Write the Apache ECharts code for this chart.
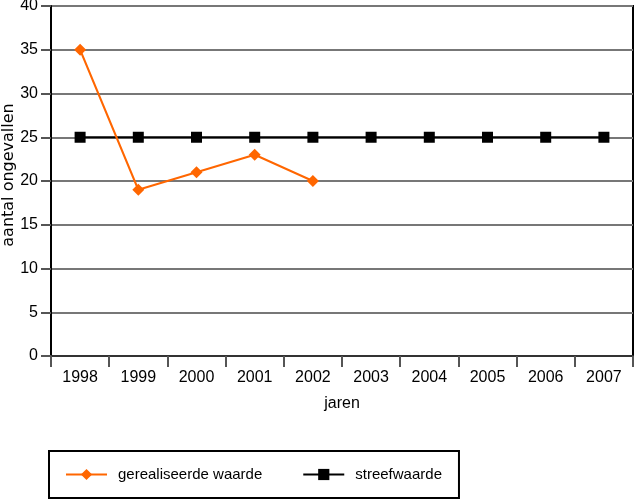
<!DOCTYPE html>
<html><head><meta charset="utf-8">
<script src="https://cdn.jsdelivr.net/npm/echarts@6/dist/echarts.min.js"></script>
<style>html,body{margin:0;padding:0;background:#fff}#c{width:635px;height:500px}</style>
</head><body><div id="c"></div>
<script>
const categories = ['1998','1999','2000','2001','2002','2003','2004','2005','2006','2007'];
const gerealiseerd = [35, 19, 21, 23, 20, null, null, null, null, null];
const streefwaarde = [25, 25, 25, 25, 25, 25, 25, 25, 25, 25];
const yTicks = {min: 0, max: 40, interval: 5};

const font = 'Liberation Sans';
const chart = echarts.init(document.getElementById('c'));
chart.setOption({
  animation: false,
  textStyle: {fontFamily: font},
  grid: {left: 51, right: 2, top: 6, bottom: 144, show: true, borderColor: '#000', borderWidth: 2,
    containLabel: false, outerBoundsMode: 'none'},
  xAxis: {
    type: 'category', data: categories, boundaryGap: true,
    name: 'jaren', nameLocation: 'middle', nameGap: 40, nameMoveOverlap: false,
    nameTextStyle: {color: '#000', fontSize: 16, fontFamily: font},
    axisLine: {lineStyle: {color: '#333', width: 2}},
    axisTick: {show: true, length: 11, lineStyle: {color: '#555', width: 2}, alignWithLabel: false},
    axisLabel: {color: '#000', fontSize: 16, margin: 14, fontFamily: font, interval: 0},
    splitLine: {show: false}
  },
  yAxis: {
    type: 'value', min: yTicks.min, max: yTicks.max, interval: yTicks.interval,
    name: 'aantal ongevallen', nameLocation: 'middle', nameGap: 34, nameRotate: 90, nameMoveOverlap: false,
    nameTextStyle: {color: '#000', fontSize: 16, fontFamily: 'DejaVu Sans', padding: [0, 0, 0, 12]},
    axisLine: {show: true, lineStyle: {color: '#000', width: 2}},
    axisTick: {show: true, length: 10, lineStyle: {color: '#555', width: 2}},
    axisLabel: {color: '#000', fontSize: 16, margin: 13, fontFamily: font},
    splitLine: {show: true, lineStyle: {color: '#777', width: 2}}
  },
  legend: {
    left: 49, top: 451, orient: 'horizontal',
    borderColor: '#000', borderWidth: 2, padding: [16, 17, 16, 16],
    itemWidth: 41, itemHeight: 14, itemGap: 40,
    textStyle: {color: '#000', fontSize: 15, fontFamily: font, padding: [0, 0, 0, 6]},
    data: ['gerealiseerde waarde', 'streefwaarde']
  },
  series: [
    {name: 'streefwaarde', type: 'line', data: streefwaarde, symbol: 'rect', symbolSize: 11,
      lineStyle: {color: '#000', width: 2}, itemStyle: {color: '#000'}, z: 2},
    {name: 'gerealiseerde waarde', type: 'line', data: gerealiseerd, symbol: 'diamond', symbolSize: 12,
      lineStyle: {color: '#FF6600', width: 2}, itemStyle: {color: '#FF6600'}, z: 3, connectNulls: false}
  ]
});
</script></body></html>
